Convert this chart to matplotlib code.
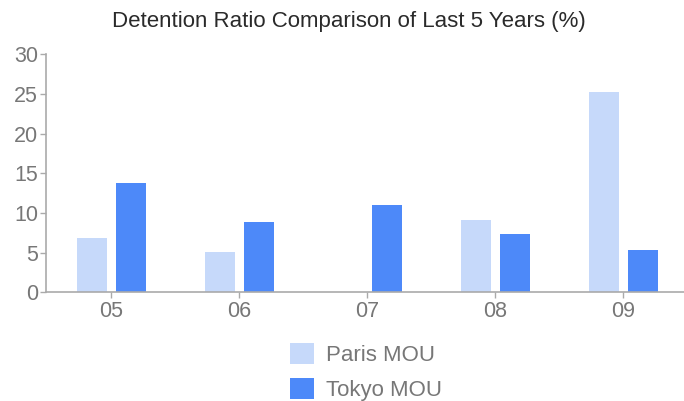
import matplotlib

matplotlib.use("Agg")
import matplotlib.pyplot as plt
import numpy as np
from matplotlib.patches import Patch

years = ["05", "06", "07", "08", "09"]
paris_mou = [6.8, 5.1, 0.0, 9.1, 25.2]
tokyo_mou = [13.8, 8.9, 11.0, 7.35, 5.3]
series_names = ["Paris MOU", "Tokyo MOU"]

PARIS_COLOR = "#c6d9fa"
TOKYO_COLOR = "#4d89f9"
AXIS_COLOR = "#aaaaaa"
TEXT_COLOR = "#777777"

plt.rcParams["font.family"] = ["Liberation Sans", "DejaVu Sans"]

W, H = 684, 401
fig = plt.figure(figsize=(W / 100, H / 100), dpi=100)
ax = fig.add_axes([46.3 / W, 1 - 292.3 / H, (684 - 46.3) / W, (292.3 - 54.3) / H])

x = np.arange(len(years))
bar_w = 0.234
ax.bar(x - 0.148, paris_mou, width=bar_w, color=PARIS_COLOR, label=series_names[0])
ax.bar(x + 0.156, tokyo_mou, width=bar_w, color=TOKYO_COLOR, label=series_names[1])

ax.set_xlim(-0.505, 4.477)
ax.set_ylim(0, 30)
ax.set_yticks(range(0, 31, 5))
ax.set_xticks(x)
ax.set_xticklabels(years)

for side in ("top", "right"):
    ax.spines[side].set_visible(False)
for side in ("left", "bottom"):
    ax.spines[side].set_color(AXIS_COLOR)
    ax.spines[side].set_linewidth(1.2)
ax.tick_params(axis="both", colors=AXIS_COLOR, labelcolor=TEXT_COLOR,
               labelsize=15.5, length=4, width=1.0, pad=2)

fig.text(349 / W, 1 - 21 / H, "Detention Ratio Comparison of Last 5 Years (%)",
         ha="center", va="center", fontsize=16, color="#2a2a2a")

handles = [Patch(facecolor=PARIS_COLOR), Patch(facecolor=TOKYO_COLOR)]
fig.legend(handles, series_names, loc="upper center", bbox_to_anchor=(366 / W, 1 - 343 / H),
           frameon=False, fontsize=16, labelcolor=TEXT_COLOR, handlelength=1.1,
           handleheight=1.05, labelspacing=0.55, handletextpad=0.55, borderaxespad=0,
           borderpad=0)

fig.savefig("out.png", dpi=100)
